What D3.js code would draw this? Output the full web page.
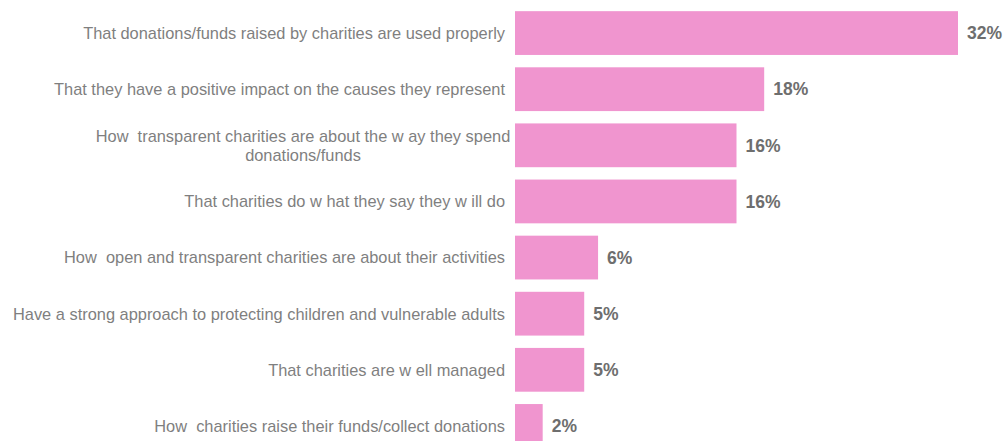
<!DOCTYPE html>
<html>
<head>
<meta charset="utf-8">
<script src="https://cdn.jsdelivr.net/npm/d3@7"></script>
<style>
  html, body { margin: 0; padding: 0; background: #fff; }
  svg { display: block; }
</style>
</head>
<body>
<div id="chart"></div>
<script>
// Survey responses: what matters most about charities
const categories = [
  ["That donations/funds raised by charities are used properly"],
  ["That they have a positive impact on the causes they represent"],
  ["How  transparent charities are about the w ay they spend", "donations/funds"],
  ["That charities do w hat they say they w ill do"],
  ["How  open and transparent charities are about their activities"],
  ["Have a strong approach to protecting children and vulnerable adults"],
  ["That charities are w ell managed"],
  ["How  charities raise their funds/collect donations"]
];
const values = [32, 18, 16, 16, 6, 5, 5, 2];
const valueLabels = ["32%", "18%", "16%", "16%", "6%", "5%", "5%", "2%"];

const width = 1005, height = 441;
const x0 = 515;

const svg = d3.select("#chart").append("svg")
  .attr("width", width).attr("height", height);

const x = d3.scaleLinear().domain([0, 32]).range([x0, 958]);
const y = d3.scaleBand().domain(d3.range(values.length))
  .range([5, 454]).paddingInner(0.22).paddingOuter(0.11);

const rows = svg.selectAll("g.row").data(values).join("g").attr("class", "row");

rows.append("rect")
  .attr("x", x(0))
  .attr("y", (d, i) => y(i))
  .attr("width", d => x(d) - x(0))
  .attr("height", y.bandwidth())
  .attr("fill", "#f095cf");

rows.append("text")
  .attr("x", d => x(d) + 9)
  .attr("y", (d, i) => y(i) + y.bandwidth() / 2)
  .attr("dy", "0.36em")
  .attr("font-family", "Liberation Sans, Arial, sans-serif")
  .attr("font-size", 17.5)
  .attr("font-weight", "bold")
  .attr("fill", "#6e6e6e")
  .text((d, i) => valueLabels[i]);

// Category labels, right-aligned next to the bars; wrapped labels are centred
const lineH = 19;
rows.append("text")
  .attr("font-family", "Liberation Sans, Arial, sans-serif")
  .attr("font-size", 16.4)
  .attr("fill", "#7f7f7f")
  .attr("xml:space", "preserve")
  .style("white-space", "pre")
  .each(function (d, i) {
    const lines = categories[i];
    const cy = y(i) + y.bandwidth() / 2;
    const startY = cy - (lines.length - 1) * lineH / 2;
    const multi = lines.length > 1;
    const t = d3.select(this);
    lines.forEach((ln, k) => {
      t.append("tspan")
        .attr("x", multi ? 303 : 505)
        .attr("text-anchor", multi ? "middle" : "end")
        .attr("y", startY + k * lineH)
        .attr("dy", "0.36em")
        .text(ln);
    });
  });
</script>
</body>
</html>
